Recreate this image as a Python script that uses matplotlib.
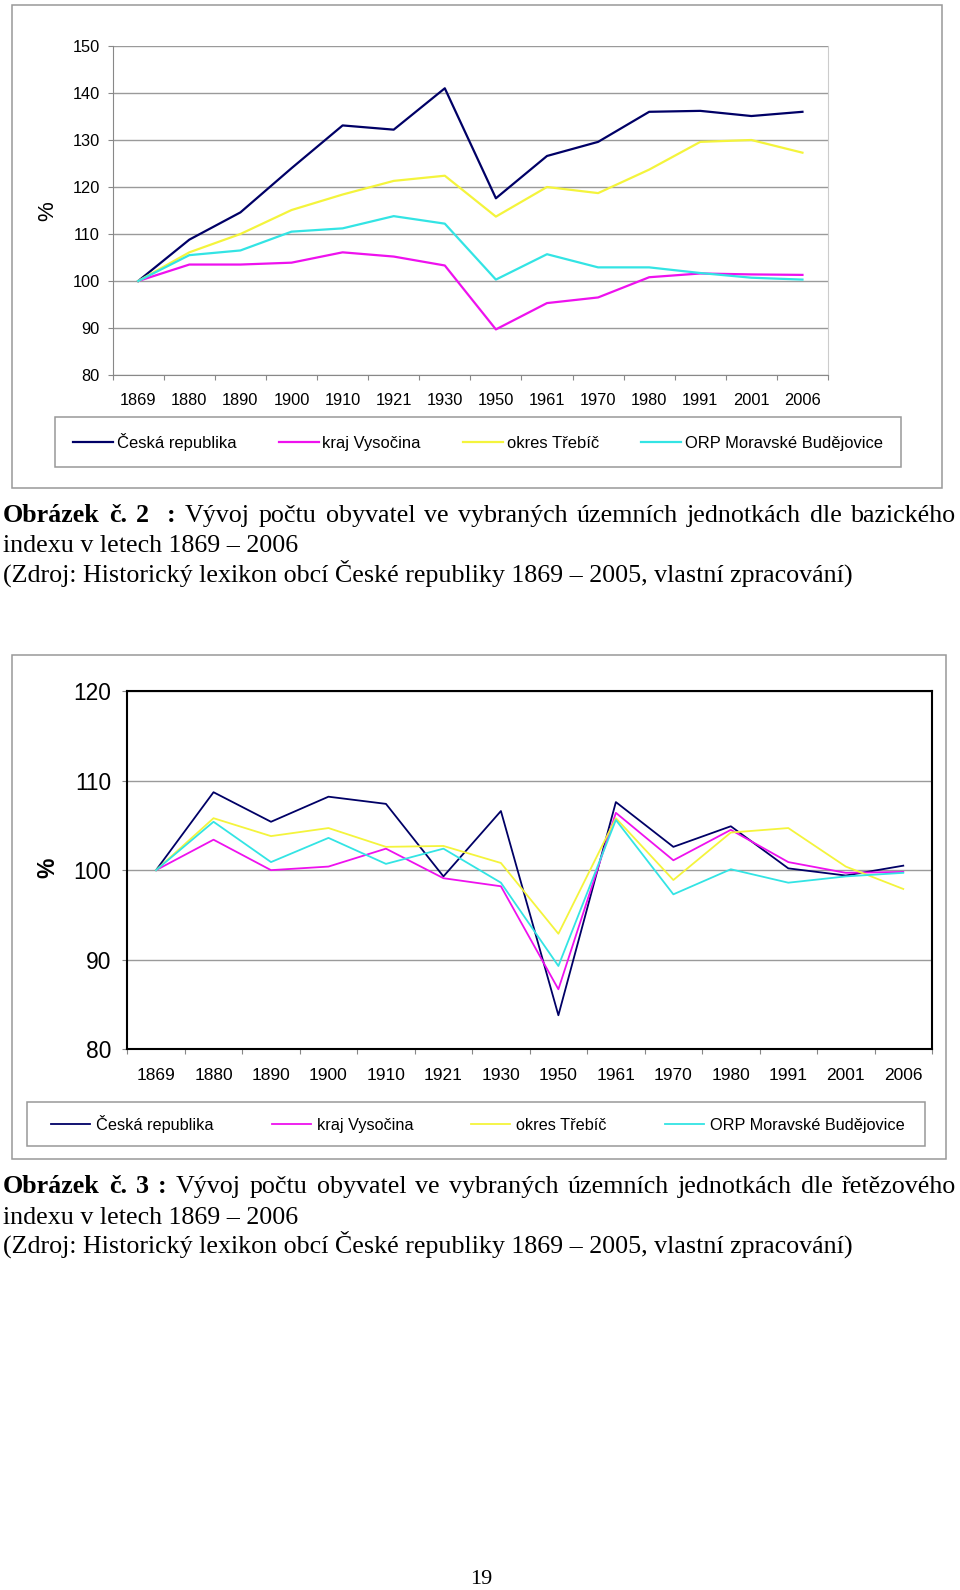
import numpy as np
import matplotlib
matplotlib.use('Agg')
import matplotlib.pyplot as plt
from matplotlib.patches import Rectangle

# data
years = ['1869', '1880', '1890', '1900', '1910', '1921', '1930',
         '1950', '1961', '1970', '1980', '1991', '2001', '2006']
names = ['Česká republika', 'kraj Vysočina', 'okres Třebíč', 'ORP Moravské Budějovice']

# Obrazek 2 - bazicky index
base_cr = [100, 108.8, 114.6, 124.0, 133.1, 132.2, 141.0, 117.6, 126.6, 129.6, 136.0, 136.2, 135.1, 136.0]
base_vys = [100, 103.5, 103.5, 103.9, 106.1, 105.2, 103.3, 89.7, 95.3, 96.5, 100.8, 101.6, 101.4, 101.3]
base_tre = [100, 106.1, 110.0, 115.1, 118.4, 121.3, 122.4, 113.7, 120.0, 118.7, 123.7, 129.6, 130.0, 127.3]
base_orp = [100, 105.5, 106.5, 110.5, 111.2, 113.8, 112.2, 100.3, 105.7, 102.9, 102.9, 101.7, 100.7, 100.3]

# Obrazek 3 - retezovy index
chain_cr = [100, 108.7, 105.4, 108.2, 107.4, 99.3, 106.6, 83.8, 107.6, 102.6, 104.9, 100.2, 99.4, 100.5]
chain_vys = [100, 103.4, 100.0, 100.4, 102.4, 99.1, 98.2, 86.7, 106.4, 101.1, 104.5, 100.9, 99.7, 99.8]
chain_tre = [100, 105.8, 103.8, 104.7, 102.6, 102.7, 100.8, 92.9, 105.8, 98.9, 104.2, 104.7, 100.4, 97.9]
chain_orp = [100, 105.4, 100.9, 103.6, 100.7, 102.4, 98.6, 89.3, 105.6, 97.3, 100.1, 98.6, 99.3, 99.7]

colors = ['#000066', '#ee11ee', '#f4f43c', '#33e4e4']

plt.rcParams['font.family'] = ['Liberation Sans', 'DejaVu Sans']

W, H = 960, 1590
fig = plt.figure(figsize=(9.6, 15.9), dpi=100)
renderer = fig.canvas.get_renderer()


def fx(x):
    return x / W


def fy(y):
    return 1 - y / H


def axes_px(l, t, r, b):
    return fig.add_axes([fx(l), fy(b), fx(r - l), (b - t) / H])


def box_px(l, t, r, b, ec='#999999', lw=1.1):
    fig.add_artist(Rectangle((fx(l), fy(b)), fx(r - l), (b - t) / H,
                             transform=fig.transFigure, fill=False, ec=ec, lw=lw))


def legend_px(ax, x0, x1, yc, fs, hl, htp):
    h, l = ax.get_legend_handles_labels()
    fig.legend(h, l, loc='center', bbox_to_anchor=(fx(x0), fy(yc), fx(x1 - x0), 0),
               mode='expand', ncol=4, frameon=False, borderpad=0, borderaxespad=0,
               handlelength=hl, handletextpad=htp, fontsize=fs)


x = np.arange(len(years))

# ---------- chart 1 ----------
box_px(12, 5, 942, 488)
ax1 = axes_px(112.7, 46, 828, 375)
for vals, c, n in zip([base_cr, base_vys, base_tre, base_orp], colors, names):
    ax1.plot(x, vals, color=c, lw=1.6, label=n)
ax1.set_xlim(-0.5, 13.5)
ax1.set_ylim(80, 150)
ax1.set_yticks(range(80, 151, 10))
ax1.yaxis.grid(True, color='#9a9a9a', lw=1.0)
ax1.set_axisbelow(True)
ax1.set_xticks(x)
ax1.set_xticklabels(years)
ax1.set_xticks(np.arange(-0.5, 14, 1), minor=True)
ax1.tick_params(axis='x', which='major', length=0, pad=13, labelsize=11.8)
ax1.tick_params(axis='x', which='minor', length=3.6, color='#888888', width=0.8)
ax1.tick_params(axis='y', length=3.6, color='#888888', width=0.8, pad=5.8, labelsize=11.8)
ax1.spines['top'].set_visible(False)
ax1.spines['right'].set_color('#cccccc')
for s in ['left', 'bottom']:
    ax1.spines[s].set_color('#888888')
fig.text(fx(47.6), fy(211), '%', fontsize=16, rotation=90, ha='center', va='center')
box_px(55, 417, 901, 467)
legend_px(ax1, 73, 883, 442, 11.9, 2.42, 0.24)

# ---------- chart 2 ----------
box_px(12, 655, 946, 1159)
ax2 = axes_px(127.3, 691, 932, 1049.3)
for vals, c, n in zip([chain_cr, chain_vys, chain_tre, chain_orp], colors, names):
    ax2.plot(x, vals, color=c, lw=1.3, label=n)
ax2.set_xlim(-0.5, 13.5)
ax2.set_ylim(80, 120)
ax2.set_yticks(range(80, 121, 10))
ax2.yaxis.grid(True, color='#9a9a9a', lw=1.0)
ax2.set_axisbelow(True)
ax2.set_xticks(x)
ax2.set_xticklabels(years)
ax2.set_xticks(np.arange(-0.5, 14, 1), minor=True)
ax2.tick_params(axis='x', which='major', length=0, pad=13.5, labelsize=12.5)
ax2.tick_params(axis='x', which='minor', length=3.6, color='#888888', width=0.8)
ax2.tick_params(axis='y', length=3.6, color='#888888', width=0.8, pad=7.9, labelsize=16.4)
for s in ax2.spines.values():
    s.set_color('black')
    s.set_linewidth(1.5)
fig.text(fx(48), fy(868), '%', fontsize=16.5, fontweight='bold', rotation=90,
         ha='center', va='center')
box_px(26.7, 1101.7, 924.5, 1146)
legend_px(ax2, 50.7, 905, 1123.9, 11.7, 2.4, 0.37)

# ---------- captions ----------
SERIF = 'Liberation Serif'


def text_w(s, size, weight='normal'):
    t = fig.text(0, 0, s, fontsize=size, fontfamily=SERIF, fontweight=weight)
    w = t.get_window_extent(renderer).width
    t.remove()
    return w


src = '(Zdroj: Historický lexikon obcí České republiky 1869 – 2005, vlastní zpracování)'
cap_size = 10 * 852 / text_w(src, 10)


def justified(y, bold, words, gap_units, x0=3, x1=956):
    tokens = [(w, 'bold') for w in bold] + [(w, 'normal') for w in words]
    widths = [text_w(s, cap_size, wt) for s, wt in tokens]
    gap = (x1 - x0 - sum(widths)) / sum(gap_units)
    xp = x0
    for i, ((s, wt), w) in enumerate(zip(tokens, widths)):
        fig.text(fx(xp), fy(y), s, fontsize=cap_size, fontfamily=SERIF,
                 fontweight=wt, va='baseline')
        if i < len(gap_units):
            xp += w + gap * gap_units[i]


def caption(y0, num, rest, double_gap):
    bold = ['Obrázek', 'č.', num, ':']
    words = rest.split()
    units = [1, 1, 2 if double_gap else 1] + [1] * len(words)
    justified(y0, bold, words, units)
    fig.text(fx(3), fy(y0 + 30.5), 'indexu v letech 1869 – 2006', fontsize=cap_size,
             fontfamily=SERIF, va='baseline')
    fig.text(fx(3), fy(y0 + 60), src, fontsize=cap_size, fontfamily=SERIF, va='baseline')


caption(522, '2', 'Vývoj počtu obyvatel ve vybraných územních jednotkách dle bazického', True)
caption(1193, '3', 'Vývoj počtu obyvatel ve vybraných územních jednotkách dle řetězového', False)

fig.text(fx(481.7), fy(1584), '19', fontsize=16, fontfamily=SERIF, ha='center', va='baseline')

fig.savefig('out.png', dpi=100)
